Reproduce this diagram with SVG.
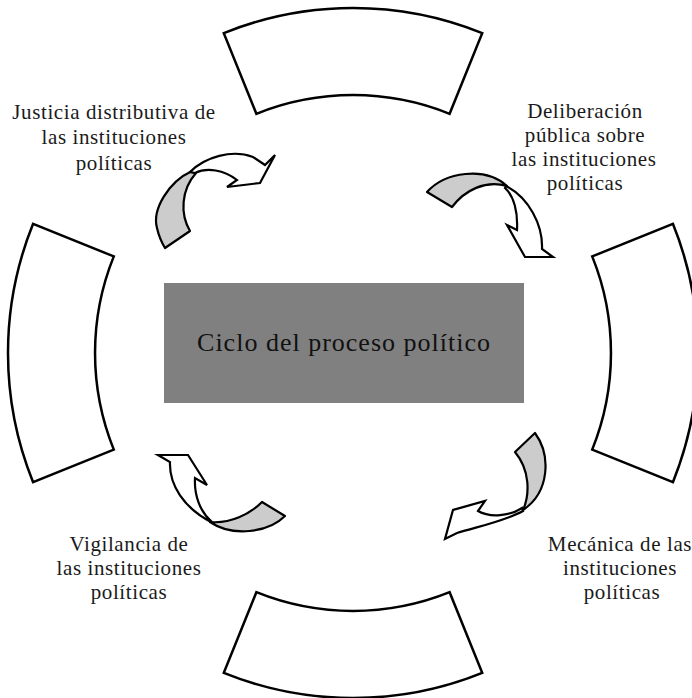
<svg xmlns="http://www.w3.org/2000/svg" width="692" height="698" viewBox="0 0 692 698">
<style>
.box{fill:#ffffff;stroke:#000000;stroke-width:2.5;stroke-linejoin:miter}
.back{fill:#cccccc;stroke:#000000;stroke-width:2.2;stroke-linejoin:round}
.front{fill:#ffffff;stroke:#000000;stroke-width:2.2;stroke-linejoin:miter}
.lbl{font-family:"Liberation Serif","Times New Roman",serif;font-size:21px;letter-spacing:0.6px;fill:#1a1a1a;text-anchor:middle}
.title{font-family:"Liberation Serif","Times New Roman",serif;font-size:26px;letter-spacing:1px;fill:#111111;text-anchor:middle}
</style>
<rect width="692" height="698" fill="#ffffff"/>
<g id="box-top"><path class="box" d="M 223.8,33.1 A 345 345 0 0 1 482.2,33.1 L 449.6,113.8 A 258 258 0 0 0 256.4,113.8 Z"/></g>
<g id="box-right"><path class="box" d="M 592.2,256.4 A 258 258 0 0 1 592.2,449.6 L 672.9,482.2 A 345 345 0 0 0 672.9,223.8 Z"/></g>
<g id="box-bottom"><path class="box" d="M 256.4,592.2 A 258 258 0 0 0 449.6,592.2 L 482.2,672.9 A 345 345 0 0 1 223.8,672.9 Z"/></g>
<g id="box-left"><path class="box" d="M 33.1,482.2 A 345 345 0 0 1 33.1,223.8 L 113.8,256.4 A 258 258 0 0 0 113.8,449.6 Z"/></g>
<g id="center">
<rect x="164" y="283" width="360" height="120" fill="#808080"/>
<text class="title" x="344" y="351">Ciclo del proceso político</text>
</g>
<g id="label-justicia">
<text class="lbl" x="114" y="119">Justicia distributiva de</text>
<text class="lbl" x="114" y="144">las instituciones</text>
<text class="lbl" x="114" y="170">políticas</text>
</g>
<g id="label-deliberacion">
<text class="lbl" x="585" y="118">Deliberación</text>
<text class="lbl" x="585" y="142">pública sobre</text>
<text class="lbl" x="584" y="166">las instituciones</text>
<text class="lbl" x="585" y="190">políticas</text>
</g>
<g id="label-vigilancia">
<text class="lbl" x="129" y="551">Vigilancia de</text>
<text class="lbl" x="129" y="575">las instituciones</text>
<text class="lbl" x="129" y="599">políticas</text>
</g>
<g id="label-mecanica">
<text class="lbl" x="620" y="551">Mecánica de las</text>
<text class="lbl" x="620" y="575">instituciones</text>
<text class="lbl" x="622" y="599">políticas</text>
</g>
<g id="connectors">
<g id="arrow-top-left">
<path class="back" d="M 192,171 C 168,182 152,210 157,228 C 159,237 162,243 165,248 L 190,231 C 180,214 181,190 196,173 Z"/>
<path class="front" d="M 190,172 C 205,157 232,149 253,157 L 265,165 L 275,155 L 260,183 L 227,187 L 237,180 C 224,170 207,167 195,173 Z"/>
</g>
<g id="arrow-top-right">
<path class="back" d="M 427,192 C 445,172 485,166 507,186 C 485,180 465,190 452,207 Z"/>
<path class="front" d="M 506,186 C 529,198 543,225 542,249 L 553,257 L 525,257 L 507,225 L 517,230 C 518,212 514,196 505,188 Z"/>
</g>
<g id="arrow-bottom-right">
<path class="back" d="M 535,433 C 551,455 550,492 523,510 C 530,494 530,470 515,452 Z"/>
<path class="front" d="M 522,508 C 510,516 490,518 478,511 L 485,501 L 453,510 L 445,539 L 457,533 C 480,526 505,521 523,511 Z"/>
</g>
<g id="arrow-bottom-left">
<path class="back" d="M 285,516 C 268,533 232,537 210,522 C 230,524 250,514 262,502 Z"/>
<path class="front" d="M 211,522 C 184,508 169,485 170,462 L 158,455 L 188,455 L 207,485 L 195,478 C 194,495 200,512 212,522 Z"/>
</g>
</g>
</svg>
